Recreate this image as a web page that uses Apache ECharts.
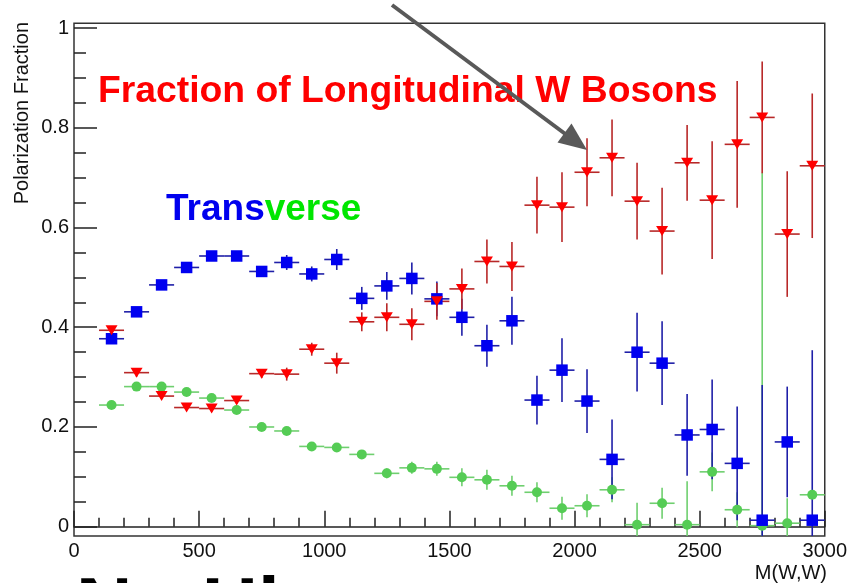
<!DOCTYPE html>
<html>
<head>
<meta charset="utf-8">
<script src="https://cdn.jsdelivr.net/npm/echarts@6/dist/echarts.min.js"></script>
<style>
html,body{margin:0;padding:0;background:#fff;}
#chart{width:850px;height:583px;}
</style>
</head>
<body>
<div id="chart"></div>
<script>
// ---- data (bin centres of M(W,W), bin width 100) ----
const massBins = [150,250,350,450,550,650,750,850,950,1050,1150,1250,1350,1450,1550,1650,1750,1850,1950,2050,2150,2250,2350,2450,2550,2650,2750,2850,2950];
const binHalfWidth = 50;

// longitudinal (red, down triangles)
const longitudinal    = [0.394,0.309,0.262,0.239,0.237,0.253,0.307,0.306,0.356,0.328,0.411,0.420,0.406,0.452,0.477,0.532,0.522,0.645,0.641,0.711,0.740,0.653,0.593,0.730,0.655,0.767,0.821,0.587,0.724];
const longitudinalErr = [0.005,0.008,0.006,0.005,0.006,0.007,0.009,0.013,0.013,0.021,0.019,0.028,0.032,0.037,0.041,0.044,0.049,0.057,0.070,0.068,0.077,0.077,0.087,0.076,0.118,0.127,0.112,0.126,0.145];

// transverse, first component (blue squares)
const transBlue    = [0.377,0.431,0.485,0.520,0.543,0.543,0.512,0.530,0.507,0.536,0.458,0.483,0.498,0.457,0.420,0.363,0.413,0.254,0.314,0.252,0.135,0.350,0.328,0.184,0.195,0.127,0.013,0.170,0.013];
const transBlueErr = [0.005,0.005,0.005,0.005,0.006,0.006,0.008,0.015,0.015,0.021,0.023,0.028,0.032,0.035,0.037,0.042,0.048,0.049,0.064,0.064,0.080,0.079,0.084,0.082,0.100,0.114,0.271,0.111,0.341];

// transverse, second component (green circles)
const transGreen    = [0.244,0.281,0.281,0.270,0.258,0.234,0.200,0.192,0.161,0.159,0.145,0.107,0.118,0.116,0.099,0.094,0.082,0.069,0.037,0.042,0.074,0.004,0.047,0.004,0.110,0.034,0.002,0.007,0.064];
const transGreenErr = [0.005,0.005,0.005,0.005,0.005,0.005,0.005,0.006,0.006,0.007,0.008,0.010,0.012,0.014,0.018,0.020,0.020,0.020,0.023,0.023,0.025,0.044,0.031,0.087,0.039,0.035,0.708,0.050,0.008];

// axis ranges
const xRange = [0, 3000];
const yFrameRange = [-0.0187, 1.0098];
const yTickRange = [0, 1];

// ---- chart ----
const chart = echarts.init(document.getElementById('chart'), null, {renderer:'canvas'});
const FONT = '"Liberation Sans", Arial, Helvetica, sans-serif';

function errorSeries(vals, errs, color) {
  return {
    type: 'custom',
    xAxisIndex: 0, yAxisIndex: 0,
    silent: true,
    data: massBins.map((m, i) => [m, vals[i], errs[i]]),
    renderItem: function (params, api) {
      const x = api.value(0), y = api.value(1), e = api.value(2);
      const c = api.coord([x, y]);
      const l = api.coord([x - binHalfWidth, y]);
      const r = api.coord([x + binHalfWidth, y]);
      const t = api.coord([x, y + e]);
      const b = api.coord([x, y - e]);
      const cs = params.coordSys;
      const top = cs.y, bot = cs.y + cs.height;
      const clamp = v => Math.max(top, Math.min(bot, v));
      return {
        type: 'group',
        children: [
          {type:'line', shape:{x1:l[0], y1:c[1], x2:r[0], y2:c[1]}, style:{stroke:color, lineWidth:1.6}},
          {type:'line', shape:{x1:c[0], y1:clamp(t[1]), x2:c[0], y2:clamp(b[1])}, style:{stroke:color, lineWidth:1.6}}
        ]
      };
    }
  };
}

function markerSeries(vals, symbol, size, color, rotate) {
  return {
    type: 'scatter',
    xAxisIndex: 0, yAxisIndex: 0,
    silent: true,
    symbol: symbol,
    symbolSize: size,
    symbolRotate: rotate || 0,
    itemStyle: {color: color, opacity: 1},
    data: massBins.map((m, i) => [m, vals[i]])
  };
}

const option = {
  animation: false,
  backgroundColor: '#ffffff',
  grid: [
    {left: 74, top: 23.3, right: 23, bottom: 47, show: true, borderColor: '#333', borderWidth: 1.5, backgroundColor: 'transparent'},
    {left: 74, top: 28, right: 23, bottom: 56.3, show: false}
  ],
  xAxis: [
    {
      type: 'value', gridIndex: 0, min: xRange[0], max: xRange[1], interval: 500,
      axisLine: {show: true, lineStyle: {color: '#222', width: 1.5}},
      axisTick: {show: true, inside: true, length: 16, lineStyle: {color: '#222', width: 1.5}},
      minorTick: {show: true, splitNumber: 5, length: 9, lineStyle: {color: '#222', width: 1.5}},
      axisLabel: {show: true, margin: 5, color: '#111', fontSize: 20, fontFamily: FONT, showMinLabel: true, showMaxLabel: true,
        formatter: v => String(v)},
      splitLine: {show: false}, minorSplitLine: {show: false}
    },
    {
      type: 'value', gridIndex: 1, min: xRange[0], max: xRange[1], show: false
    }
  ],
  yAxis: [
    {
      type: 'value', gridIndex: 0, min: yFrameRange[0], max: yFrameRange[1], show: false,
      splitLine: {show: false}
    },
    {
      type: 'value', gridIndex: 1, min: yTickRange[0], max: yTickRange[1], interval: 0.2,
      axisLine: {show: false},
      axisTick: {show: true, inside: true, length: 23, lineStyle: {color: '#222', width: 1.5}},
      minorTick: {show: true, splitNumber: 4, length: 12, lineStyle: {color: '#222', width: 1.5}},
      axisLabel: {show: true, margin: 5, color: '#111', fontSize: 20, fontFamily: FONT, formatter: v => String(+v.toFixed(2))},
      splitLine: {show: false}, minorSplitLine: {show: false}
    }
  ],
  series: [
    errorSeries(transGreen, transGreenErr, '#6fcf6f'),
    markerSeries(transGreen, 'circle', 10, '#55cc55'),
    errorSeries(transBlue, transBlueErr, '#1f1fa8'),
    markerSeries(transBlue, 'rect', 11.5, '#0000f0'),
    errorSeries(longitudinal, longitudinalErr, '#b82828'),
    markerSeries(longitudinal, 'triangle', [12, 10], '#ff0000', 180)
  ],
  graphic: [
    {type:'text', z: 50, style:{text:'Polarization Fraction', x: 22.5, y: 22, align:'right', verticalAlign:'middle', font: '20px ' + FONT, fill:'#111'}, rotation: Math.PI/2, originX: 22.5, originY: 22},
    {type:'text', z: 50, style:{text:'M(W,W)', x: 827, y: 573, align:'right', verticalAlign:'middle', font: '20px ' + FONT, fill:'#111'}},
    {type:'text', z: 50, style:{text:'Fraction of Longitudinal W Bosons', x: 98, y: 91.5, align:'left', verticalAlign:'middle', font: 'bold 37.3px ' + FONT, fill:'#ff0000'}},
    {type:'text', z: 50, style:{text:'{a|Trans}{b|verse}', x: 166, y: 210, align:'left', verticalAlign:'middle', font: 'bold 37px ' + FONT,
      rich: {a: {fill:'#0000ee', font: 'bold 37px ' + FONT}, b: {fill:'#00e600', font: 'bold 37px ' + FONT}}}},
    {type:'text', z: 50, style:{text:'No Higgs', x: 76, y: 610, align:'left', verticalAlign:'middle', font: 'bold 78px ' + FONT, fill:'#000'}},
    {type:'line', z: 60, shape:{x1: 392, y1: 5, x2: 566, y2: 134.5}, style:{stroke:'#595959', lineWidth: 4}},
    {type:'polygon', z: 60, shape:{points:[[587,150],[557.5,142.5],[571.5,123.5]]}, style:{fill:'#595959'}}
  ]
};
chart.setOption(option);
</script>
</body>
</html>
